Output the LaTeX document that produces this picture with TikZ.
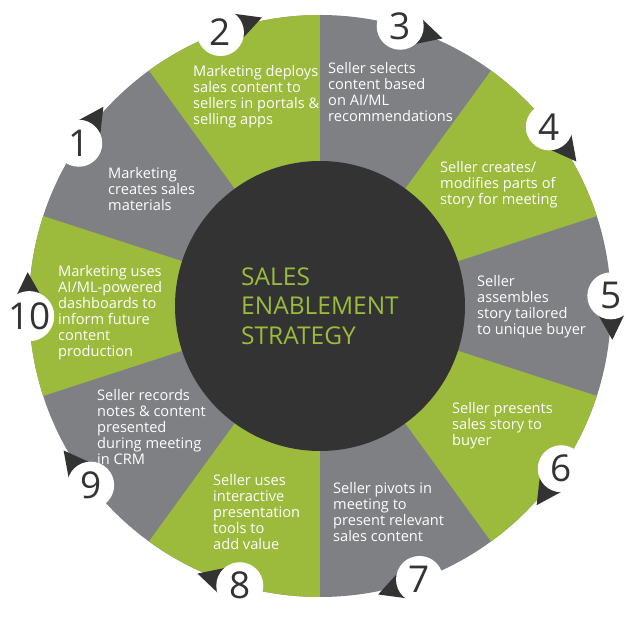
\documentclass[tikz,border=0pt]{standalone}
\usepackage{fontspec}
\setmainfont{Open Sans}
\usepackage{xcolor}
\usepackage{tikz}

\definecolor{leaf}{HTML}{9CBB3C}
\definecolor{slate}{HTML}{7F8083}
\definecolor{coal}{HTML}{333333}

\begin{document}
\begin{tikzpicture}[x=1pt, y=1pt]
    % Define styles
    \tikzstyle{hub} = [circle, fill=coal, text=leaf, minimum size=290pt, inner sep=0pt, align=left, font=\fontsize{24.5}{29.5}\selectfont]
    \tikzstyle{steptext} = [anchor=base west, text=white, align=left, inner sep=0pt, font=\fontsize{14.6}{16}\selectfont]
    \tikzstyle{stepnum} = [circle, fill=white, text=coal, minimum size=47pt, inner sep=0pt, font=\fontsize{37}{37}\selectfont]
    \tikzstyle{numtail} = [fill=coal]

    \useasboundingbox (-320,-314) rectangle (320,306);

    % Ring
    \fill[slate] (0,0) circle[radius=291pt];
    \fill[leaf] (0,0) -- (90:291) arc[start angle=90, end angle=126, radius=291pt] -- cycle;
    \fill[leaf] (0,0) -- (18:291) arc[start angle=18, end angle=54, radius=291pt] -- cycle;
    \fill[leaf] (0,0) -- (-54:291) arc[start angle=-54, end angle=-18, radius=291pt] -- cycle;
    \fill[leaf] (0,0) -- (-126:291) arc[start angle=-126, end angle=-90, radius=291pt] -- cycle;
    \fill[leaf] (0,0) -- (162:291) arc[start angle=162, end angle=198, radius=291pt] -- cycle;

    % Hub
    \node[hub] (hub) at (0,0) {SALES\\ENABLEMENT\\STRATEGY};

    % Step texts (anchored at the last baseline)
    \node[steptext] (t1) at (-212,95) {Marketing\\creates sales\\materials};
    \node[steptext] (t2) at (-127,181) {Marketing deploys\\sales content to\\sellers in portals \&\\selling apps};
    \node[steptext] (t3) at (8,184) {Seller selects\\content based\\on AI/ML\\recommendations};
    \node[steptext] (t4) at (120,101) {Seller creates/\\modifies parts of\\story for meeting};
    \node[steptext] (t5) at (157,-29) {Seller\\assembles\\story tailored\\to unique buyer};
    \node[steptext] (t6) at (132,-140) {Seller presents\\sales story to\\buyer};
    \node[steptext] (t7) at (13,-236) {Seller pivots in\\meeting to\\present relevant\\sales content};
    \node[steptext] (t8) at (-107,-244) {Seller uses\\interactive\\presentation\\tools to\\add value};
    \node[steptext] (t9) at (-223,-159) {Seller records\\notes \& content\\presented\\during meeting\\in CRM};
    \node[steptext] (t10) at (-262,-51) {Marketing uses\\AI/ML-powered\\dashboards to\\inform future\\content\\production};

    % Step numbers
    \fill[numtail] (146:268) -- (137.4:294.3) -- (146:314) -- cycle;
    \node[stepnum] (n1) at (146:291) {1};
    \fill[numtail] (110:268) -- (101.4:294.3) -- (110:314) -- cycle;
    \node[stepnum] (n2) at (110:291) {2};
    \fill[numtail] (74:268) -- (65.4:294.3) -- (74:314) -- cycle;
    \node[stepnum] (n3) at (74:291) {3};
    \fill[numtail] (38:268) -- (29.4:294.3) -- (38:314) -- cycle;
    \node[stepnum] (n4) at (38:291) {4};
    \fill[numtail] (2:268) -- (-6.6:294.3) -- (2:314) -- cycle;
    \node[stepnum] (n5) at (2:291) {5};
    \fill[numtail] (-34:268) -- (-42.6:294.3) -- (-34:314) -- cycle;
    \node[stepnum] (n6) at (-34:291) {6};
    \fill[numtail] (-70:268) -- (-78.6:294.3) -- (-70:314) -- cycle;
    \node[stepnum] (n7) at (-70:291) {7};
    \fill[numtail] (-106:268) -- (-114.6:294.3) -- (-106:314) -- cycle;
    \node[stepnum] (n8) at (-106:291) {8};
    \fill[numtail] (-142:268) -- (-150.6:294.3) -- (-142:314) -- cycle;
    \node[stepnum] (n9) at (-142:291) {9};
    \fill[numtail] (182:268) -- (173.4:294.3) -- (182:314) -- cycle;
    \node[stepnum] (n10) at (182:291) {10};
\end{tikzpicture}
\end{document}
